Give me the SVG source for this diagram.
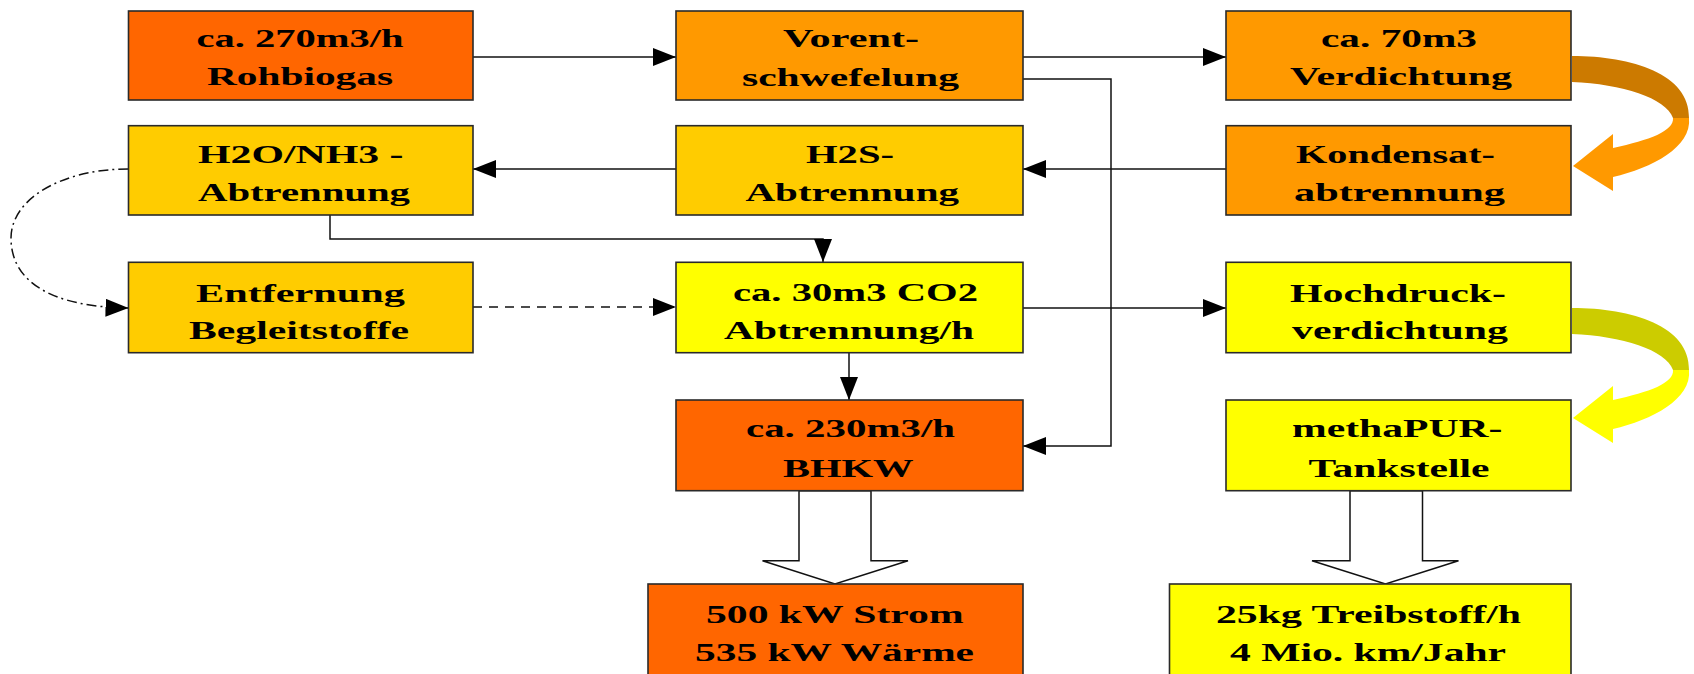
<svg xmlns="http://www.w3.org/2000/svg" width="1694" height="674" viewBox="0 0 1694 674">
<style>
.box{stroke:#2a2a2a;stroke-width:1.6}
.o1{fill:#FF6600}.o2{fill:#FF9900}.o3{fill:#FFCC00}.y{fill:#FFFF00}
.t{font-family:"Liberation Serif","Times New Roman",serif;font-weight:bold;font-size:26px;fill:#000}
.c{fill:none;stroke:#111;stroke-width:1.5}
.dash{stroke-dasharray:9 7}
.dashdot{stroke-dasharray:10 4 2 4}
.hollow{fill:#fff;stroke:#111;stroke-width:1.5;stroke-linejoin:miter}
</style>
<defs>
<marker id="ah" markerUnits="userSpaceOnUse" markerWidth="24" markerHeight="18" refX="23" refY="9" orient="auto">
<path d="M0,0 L23,9 L0,18 Z" fill="#000"/>
</marker>
</defs>
<rect width="1694" height="674" fill="#fff"/>

<g id="connectors">
<path class="c" d="M473,57 L676,57" marker-end="url(#ah)"/>
<path class="c" d="M1023,57 L1226,57" marker-end="url(#ah)"/>
<path class="c" d="M1023,79 L1111,79 L1111,446 L1023,446" marker-end="url(#ah)"/>
<path class="c" d="M1226,169 L1023,169" marker-end="url(#ah)"/>
<path class="c" d="M676,169 L473,169" marker-end="url(#ah)"/>
<path class="c" d="M330,215 L330,239 L823,239 L823,262" marker-end="url(#ah)"/>
<path class="c dash" d="M473,307 L676,307" marker-end="url(#ah)"/>
<path class="c dashdot" d="M128.5,169 C60,169 11,200 11,238 C11,282 52,307 128.5,308" marker-end="url(#ah)"/>
<path class="c" d="M849,352.7 L849,400" marker-end="url(#ah)"/>
<path class="c" d="M1023,308 L1226,308" marker-end="url(#ah)"/>
<polygon class="hollow" points="799,490.7 799,560.7 762.5,560.7 835,584 908,560.7 871,560.7 871,490.7"/>
<polygon class="hollow" points="1350,490.7 1350,560.7 1312,560.7 1385.5,584 1458.5,560.7 1422.5,560.7 1422.5,490.7"/>
<g id="curl-orange">
<path d="M1572,56 C1632,56 1690,74 1689,118 L1673,118 C1666,98 1622,84 1572,82 Z" fill="#CC7A00"/>
<path d="M1689,118 C1692,147 1652,168 1613,177 L1613,191 L1573,166 L1613,134 L1613,148 C1650,140 1674,131 1673,118 Z" fill="#FF9900"/>
</g>
<g id="curl-yellow" transform="translate(0,252)">
<path d="M1572,56 C1632,56 1690,74 1689,118 L1673,118 C1666,98 1622,84 1572,82 Z" fill="#CCCC00"/>
<path d="M1689,118 C1692,147 1652,168 1613,177 L1613,191 L1573,166 L1613,134 L1613,148 C1650,140 1674,131 1673,118 Z" fill="#FFFF00"/>
</g>
</g>

<g id="n-rohbiogas">
<rect class="box o1" x="128.5" y="11" width="344.5" height="89"/>
<text class="t" x="196.5" y="47" textLength="207" lengthAdjust="spacingAndGlyphs">ca. 270m3/h</text>
<text class="t" x="207" y="85" textLength="186" lengthAdjust="spacingAndGlyphs">Rohbiogas</text>
</g>
<g id="n-vorent">
<rect class="box o2" x="676" y="11" width="347" height="89"/>
<text class="t" x="783" y="47" textLength="136" lengthAdjust="spacingAndGlyphs">Vorent-</text>
<text class="t" x="742" y="86" textLength="217" lengthAdjust="spacingAndGlyphs">schwefelung</text>
</g>
<g id="n-verdichtung">
<rect class="box o2" x="1226" y="11" width="345" height="89"/>
<text class="t" x="1321" y="47" textLength="156" lengthAdjust="spacingAndGlyphs">ca. 70m3</text>
<text class="t" x="1290" y="85" textLength="222" lengthAdjust="spacingAndGlyphs">Verdichtung</text>
</g>
<g id="n-h2o">
<rect class="box o3" x="128.5" y="125.7" width="344.5" height="89.3"/>
<text class="t" x="198" y="163" textLength="205.5" lengthAdjust="spacingAndGlyphs">H2O/NH3 -</text>
<text class="t" x="198" y="201" textLength="212" lengthAdjust="spacingAndGlyphs">Abtrennung</text>
</g>
<g id="n-h2s">
<rect class="box o3" x="676" y="125.7" width="347" height="89.3"/>
<text class="t" x="806" y="163" textLength="88" lengthAdjust="spacingAndGlyphs">H2S-</text>
<text class="t" x="745.5" y="201" textLength="213.5" lengthAdjust="spacingAndGlyphs">Abtrennung</text>
</g>
<g id="n-kondensat">
<rect class="box o2" x="1226" y="125.7" width="345" height="89.3"/>
<text class="t" x="1296" y="163" textLength="199" lengthAdjust="spacingAndGlyphs">Kondensat-</text>
<text class="t" x="1294" y="201" textLength="211" lengthAdjust="spacingAndGlyphs">abtrennung</text>
</g>
<g id="n-entfernung">
<rect class="box o3" x="128.5" y="262.3" width="344.5" height="90.4"/>
<text class="t" x="196" y="301.5" textLength="209" lengthAdjust="spacingAndGlyphs">Entfernung</text>
<text class="t" x="189" y="339.3" textLength="220" lengthAdjust="spacingAndGlyphs">Begleitstoffe</text>
</g>
<g id="n-co2">
<rect class="box y" x="676" y="262.3" width="347" height="90.4"/>
<text class="t" x="733" y="300.5" textLength="245" lengthAdjust="spacingAndGlyphs">ca. 30m3 CO2</text>
<text class="t" x="724" y="338.5" textLength="250" lengthAdjust="spacingAndGlyphs">Abtrennung/h</text>
</g>
<g id="n-hochdruck">
<rect class="box y" x="1226" y="262.3" width="345" height="90.4"/>
<text class="t" x="1290" y="301.5" textLength="216" lengthAdjust="spacingAndGlyphs">Hochdruck-</text>
<text class="t" x="1292" y="339" textLength="216" lengthAdjust="spacingAndGlyphs">verdichtung</text>
</g>
<g id="n-bhkw">
<rect class="box o1" x="676" y="400" width="347" height="90.7"/>
<text class="t" x="746" y="436.7" textLength="209" lengthAdjust="spacingAndGlyphs">ca. 230m3/h</text>
<text class="t" x="783" y="477.3" textLength="130.6" lengthAdjust="spacingAndGlyphs">BHKW</text>
</g>
<g id="n-methapur">
<rect class="box y" x="1226" y="400" width="345" height="90.7"/>
<text class="t" x="1292" y="436.5" textLength="210.5" lengthAdjust="spacingAndGlyphs">methaPUR-</text>
<text class="t" x="1308.5" y="477.3" textLength="181" lengthAdjust="spacingAndGlyphs">Tankstelle</text>
</g>
<g id="n-strom">
<rect class="box o1" x="648" y="584" width="375" height="100"/>
<text class="t" x="706" y="623.3" textLength="257.6" lengthAdjust="spacingAndGlyphs">500 kW Strom</text>
<text class="t" x="695" y="660.7" textLength="279" lengthAdjust="spacingAndGlyphs">535 kW Wärme</text>
</g>
<g id="n-treibstoff">
<rect class="box y" x="1169.5" y="584" width="401.5" height="100"/>
<text class="t" x="1216" y="623.3" textLength="305" lengthAdjust="spacingAndGlyphs">25kg Treibstoff/h</text>
<text class="t" x="1230" y="660.7" textLength="276" lengthAdjust="spacingAndGlyphs">4 Mio. km/Jahr</text>
</g>
</svg>
